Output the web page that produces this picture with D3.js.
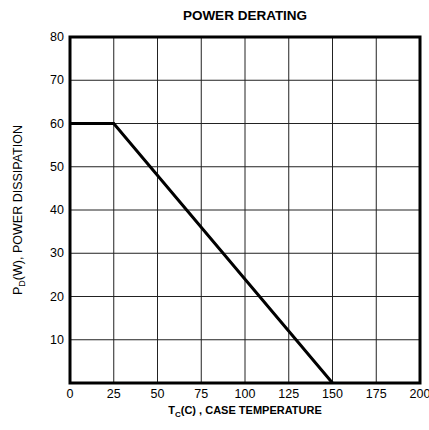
<!DOCTYPE html>
<html>
<head>
<meta charset="utf-8">
<script src="https://cdn.jsdelivr.net/npm/d3@7.9.0/dist/d3.min.js"></script>
<style>
  body { margin: 0; background: #fff; }
  text { font-family: "Liberation Sans", Arial, sans-serif; fill: #000; }
</style>
</head>
<body>
<svg id="chart" width="429" height="430"></svg>
<script>
const tempC = [0, 25, 150];
const powerW = [60, 60, 0];
const xTicks = [0, 25, 50, 75, 100, 125, 150, 175, 200];
const yTicks = [10, 20, 30, 40, 50, 60, 70, 80];

const margin = { top: 37, right: 9, bottom: 47, left: 70 };
const width = 429 - margin.left - margin.right;
const height = 430 - margin.top - margin.bottom;

const svg = d3.select("#chart");
const g = svg.append("g").attr("transform", `translate(${margin.left},${margin.top})`);

const x = d3.scaleLinear().domain([0, 200]).range([0, width]);
const y = d3.scaleLinear().domain([0, 80]).range([height, 0]);

// grid
g.selectAll(".vgrid")
  .data(xTicks.slice(1, -1))
  .enter()
  .append("line")
  .attr("x1", (d) => x(d)).attr("x2", (d) => x(d))
  .attr("y1", 0).attr("y2", height)
  .attr("stroke", "#222").attr("stroke-width", 1);

g.selectAll(".hgrid")
  .data(yTicks.slice(0, -1))
  .enter()
  .append("line")
  .attr("x1", 0).attr("x2", width)
  .attr("y1", (d) => y(d)).attr("y2", (d) => y(d))
  .attr("stroke", "#222").attr("stroke-width", 1);

// frame
g.append("rect")
  .attr("width", width).attr("height", height)
  .attr("fill", "none").attr("stroke", "#000").attr("stroke-width", 3);

// tick labels
g.selectAll(".xlab")
  .data(xTicks)
  .enter()
  .append("text")
  .attr("x", (d) => x(d)).attr("y", height + 15)
  .attr("text-anchor", "middle")
  .attr("font-size", 12.5)
  .text((d) => d);

g.selectAll(".ylab")
  .data(yTicks)
  .enter()
  .append("text")
  .attr("x", -6).attr("y", (d) => y(d) + 4)
  .attr("text-anchor", "end")
  .attr("font-size", 12.5)
  .text((d) => d);

// derating line
const line = d3.line().x((d, i) => x(tempC[i])).y((d) => y(d));
g.append("path")
  .datum(powerW)
  .attr("d", line)
  .attr("fill", "none")
  .attr("stroke", "#000")
  .attr("stroke-width", 3);

// titles
svg.append("text")
  .attr("x", margin.left + width / 2).attr("y", 20)
  .attr("text-anchor", "middle")
  .attr("font-size", 13.5).attr("font-weight", "bold")
  .text("POWER DERATING");

const xt = svg.append("text")
  .attr("x", margin.left + width / 2).attr("y", 414)
  .attr("text-anchor", "middle")
  .attr("font-size", 11).attr("font-weight", "bold");
xt.append("tspan").text("T");
xt.append("tspan").attr("font-size", 8).attr("dy", 3).text("C");
xt.append("tspan").attr("dy", -3).text("(C) , CASE TEMPERATURE");

const yt = svg.append("text")
  .attr("transform", `translate(22,${margin.top + height / 2}) rotate(-90)`)
  .attr("text-anchor", "middle")
  .attr("font-size", 12.5);
yt.append("tspan").text("P");
yt.append("tspan").attr("font-size", 9).attr("dy", 3).text("D");
yt.append("tspan").attr("dy", -3).text("(W), POWER DISSIPATION");
</script>
</body>
</html>
